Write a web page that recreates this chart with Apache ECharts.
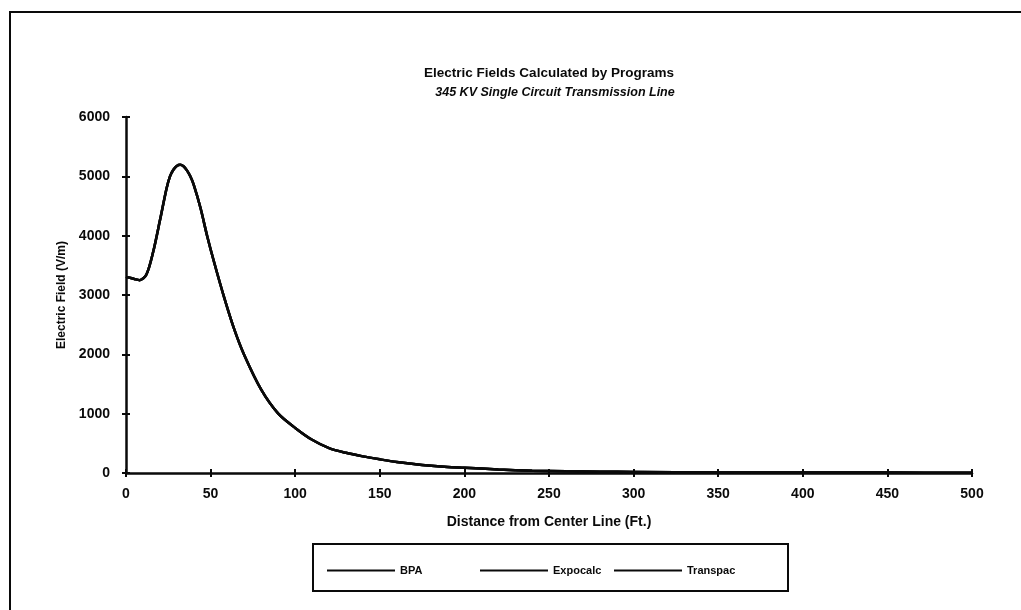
<!DOCTYPE html>
<html>
<head>
<meta charset="utf-8">
<script src="https://cdn.jsdelivr.net/npm/echarts@6/dist/echarts.min.js"></script>
<style>
html,body{margin:0;padding:0;background:#fff;}
#chart{width:1021px;height:610px;}
</style>
</head>
<body>
<div id="chart"></div>
<script>
const titleText = 'Electric Fields Calculated by Programs';
const subtitleText = '345 KV Single Circuit Transmission Line';
const xAxisName = 'Distance from Center Line (Ft.)';
const yAxisName = 'Electric Field (V/m)';
const seriesNames = ['BPA', 'Expocalc', 'Transpac'];
const xTicks = [0, 50, 100, 150, 200, 250, 300, 350, 400, 450, 500];
const yTicks = [0, 1000, 2000, 3000, 4000, 5000, 6000];

const distance = [0,5,8,12,16,20,24,26,28,30,32,34,36,38,40,44,48,52,58,64,70,80,90,100,110,120,130,140,150,160,175,190,200,220,240,260,280,300,350,400,450,500];
const bpa      = [3305,3270,3250,3340,3720,4250,4800,5000,5110,5175,5195,5170,5100,5000,4860,4470,3990,3560,2960,2420,1980,1400,1000,760,560,420,340,280,230,185,135,100,88,60,38,28,22,18,12,9,7,5];
const expocalc = [3305,3270,3250,3340,3720,4250,4800,5000,5110,5175,5195,5170,5100,5000,4860,4470,3990,3560,2960,2420,1980,1400,1000,760,560,420,340,280,230,185,135,100,88,60,38,28,22,18,12,9,7,5];
const transpac = [3305,3270,3250,3340,3720,4250,4800,5000,5110,5175,5195,5170,5100,5000,4860,4470,3990,3560,2960,2420,1980,1400,1000,760,560,420,340,280,230,185,135,100,88,60,38,28,22,18,12,9,7,5];

const valuesBySeries = [bpa, expocalc, transpac];
const FONT = '"Liberation Sans", Arial, sans-serif';
const INK = '#0a0a0a';

const xMin = xTicks[0], xMax = xTicks[xTicks.length - 1], xInt = xTicks[1] - xTicks[0];
const yMin = yTicks[0], yMax = yTicks[yTicks.length - 1], yInt = yTicks[1] - yTicks[0];

const G = { left: 126, right: 49, top: 117, bottom: 137 };

const xMain = {
  type: 'value', min: xMin, max: xMax, interval: xInt, position: 'bottom',
  name: xAxisName, nameLocation: 'middle', nameGap: 42,
  nameTextStyle: { fontFamily: FONT, fontWeight: 'bold', fontSize: 14, color: INK },
  axisLine: { show: true, onZero: false, lineStyle: { color: INK, width: 2.5 } },
  axisTick: { show: true, length: 4, lineStyle: { color: INK, width: 2 } },
  axisLabel: { margin: 14, fontFamily: FONT, fontWeight: 'bold', fontSize: 14, color: INK, formatter: v => String(v) },
  splitLine: { show: false }
};
// mirror axis placed on the zero line (bottom edge) so ticks also point upward -> crossing ticks
const xMirror = {
  type: 'value', min: xMin, max: xMax, interval: xInt, position: 'top',
  axisLine: { show: true, onZero: true, onZeroAxisIndex: 0, lineStyle: { color: INK, width: 0, opacity: 0 } },
  axisTick: { show: true, length: 4, lineStyle: { color: INK, width: 2, opacity: 1 } },
  axisLabel: { show: false }, splitLine: { show: false }
};
const yMain = {
  type: 'value', min: yMin, max: yMax, interval: yInt, position: 'left',
  name: yAxisName, nameLocation: 'middle', nameGap: 58,
  nameTextStyle: { fontFamily: FONT, fontWeight: 'bold', fontSize: 12, color: INK },
  axisLine: { show: true, onZero: false, lineStyle: { color: INK, width: 2.5 } },
  axisTick: { show: true, length: 4, lineStyle: { color: INK, width: 2 } },
  axisLabel: { margin: 16, fontFamily: FONT, fontWeight: 'bold', fontSize: 14, color: INK, formatter: v => String(v) },
  splitLine: { show: false }
};
const yMirror = {
  type: 'value', min: yMin, max: yMax, interval: yInt, position: 'right',
  axisLine: { show: true, onZero: true, onZeroAxisIndex: 0, lineStyle: { color: INK, width: 0, opacity: 0 } },
  axisTick: { show: true, length: 4, lineStyle: { color: INK, width: 2, opacity: 1 } },
  axisLabel: { show: false }, splitLine: { show: false }
};

const legendStarts = [327, 480, 614];
const legends = seriesNames.map((name, k) => ({
  data: [name],
  left: legendStarts[k] - 5, top: 560,
  icon: 'rect', itemWidth: 68, itemHeight: 2,
  itemStyle: { color: INK },
  textStyle: { fontFamily: FONT, fontWeight: 'bold', fontSize: 11, color: INK }
}));

const chart = echarts.init(document.getElementById('chart'), null, { renderer: 'canvas' });
chart.setOption({
  backgroundColor: '#ffffff',
  animation: false,
  title: [
    { text: titleText, left: 544, top: 61, textAlign: 'center',
      textStyle: { fontFamily: FONT, fontWeight: 'bold', fontSize: 13.5, color: INK } },
    { text: subtitleText, left: 550, top: 81, textAlign: 'center',
      textStyle: { fontFamily: FONT, fontWeight: 'bold', fontStyle: 'italic', fontSize: 12.5, color: INK } }
  ],
  grid: { left: G.left, right: G.right, top: G.top, bottom: G.bottom, containLabel: false },
  xAxis: [xMain, xMirror],
  yAxis: [yMain, yMirror],
  legend: legends,
  graphic: [
    { type: 'rect', shape: { x: 10, y: 12, width: 1040, height: 640 },
      style: { fill: 'none', stroke: INK, lineWidth: 2 }, silent: true, z: -1 },
    { type: 'rect', shape: { x: 313, y: 544, width: 475, height: 47 },
      style: { fill: 'none', stroke: INK, lineWidth: 2 }, silent: true, z: -1 }
  ],
  series: seriesNames.map((name, k) => ({
    name: name,
    type: 'line',
    xAxisIndex: 0, yAxisIndex: 0,
    smooth: 0.3,
    symbol: 'none',
    lineStyle: { color: INK, width: 2.5 },
    itemStyle: { color: INK },
    data: distance.map((d, i) => [d, valuesBySeries[k][i]])
  }))
});
</script>
</body>
</html>
